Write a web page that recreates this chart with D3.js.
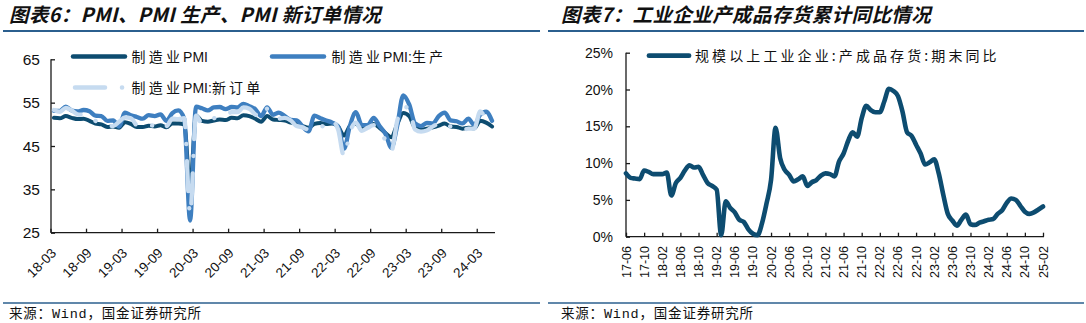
<!DOCTYPE html>
<html>
<head>
<meta charset="utf-8">
<script src="https://cdn.jsdelivr.net/npm/d3@7"></script>
<style>
  html, body { margin: 0; padding: 0; background: #fff; }
  svg { display: block; }
  text { font-family: Arial, "Liberation Sans", "Noto Sans CJK SC", sans-serif; fill: #111; }
</style>
</head>
<body>
<svg id="chart" width="1086" height="323"></svg>
<script>
// ---------------- DATA ----------------
// Left chart: monthly, 2018-03 .. 2024-05
const leftStart = "2018-03", leftEnd = "2024-06"; // end exclusive
const pmi = [51.5, 51.4, 51.9, 51.5, 51.2, 51.3, 50.8, 50.2, 50.0, 49.4,
  49.5, 49.2, 50.5, 50.1, 49.4, 49.4, 49.7, 49.5, 49.8, 49.3, 50.2, 50.2,
  50.0, 35.7, 52.0, 50.8, 50.6, 50.9, 51.1, 51.0, 51.5, 51.4, 52.1, 51.9,
  51.3, 50.6, 51.9, 51.1, 51.0, 50.9, 50.4, 50.1, 49.6, 49.2, 50.1, 50.3,
  50.1, 50.2, 49.5, 47.4, 49.6, 50.2, 49.0, 49.4, 50.1, 49.2, 48.0, 47.0,
  50.1, 52.6, 51.9, 49.2, 48.8, 49.0, 49.3, 49.7, 50.2, 49.5, 49.4, 49.0,
  49.2, 49.1, 50.8, 50.4, 49.5];
const pmiProduction = [53.1, 53.1, 54.1, 53.2, 53.0, 53.3, 53.0, 52.0, 51.9, 50.8,
  50.9, 49.5, 52.7, 52.1, 51.7, 51.3, 52.1, 51.9, 52.3, 50.8, 52.6, 53.2,
  51.3, 27.8, 54.1, 53.7, 53.2, 53.9, 54.0, 53.5, 54.0, 53.9, 54.7, 54.2,
  53.5, 51.9, 53.9, 52.2, 52.7, 51.9, 51.0, 50.9, 49.5, 48.4, 52.0, 51.4,
  50.9, 50.4, 49.5, 44.4, 49.7, 52.8, 49.8, 49.8, 51.5, 49.6, 47.8, 44.6,
  49.8, 56.7, 54.6, 50.2, 49.6, 50.3, 50.2, 51.9, 52.7, 50.9, 50.7, 50.2,
  51.3, 49.8, 52.2, 52.9, 50.8];
const pmiNewOrders = [53.3, 52.9, 53.8, 53.2, 52.3, 52.2, 52.0, 50.8, 50.4, 49.7,
  49.6, 50.6, 51.6, 51.4, 49.8, 49.6, 49.8, 49.7, 50.5, 49.6, 51.3, 51.2,
  51.4, 29.3, 52.0, 50.2, 50.9, 51.4, 51.7, 52.0, 52.8, 52.8, 53.9, 53.6,
  52.3, 51.5, 53.6, 52.0, 51.3, 51.5, 50.9, 49.6, 49.3, 48.8, 49.4, 49.7,
  49.3, 50.7, 48.8, 42.6, 48.2, 50.4, 48.5, 49.2, 49.8, 48.1, 46.4, 43.9,
  50.9, 54.1, 53.6, 48.8, 48.3, 48.6, 49.5, 50.2, 50.5, 49.5, 49.4, 48.7,
  49.0, 49.0, 53.0, 51.1, 49.6];
const leftTickLabels = ["18-03","18-09","19-03","19-09","20-03","20-09","21-03","21-09","22-03","22-09","23-03","23-09","24-03"];
const leftYTicks = [25, 35, 45, 55, 65];
const leftSeriesNames = ["制造业PMI", "制造业PMI:生产", "制造业PMI:新订单"];

// Right chart: monthly, 2017-06 .. 2025-02 (%)
const rightStart = "2017-06", rightEnd = "2025-03"; // end exclusive
const inventoryYoY = [8.6, 8.0, 7.9, 7.8, 9.0, 8.8, 8.5, 8.5, 8.5, 8.7,
  5.6, 7.3, 8.0, 9.0, 9.7, 9.4, 9.5, 8.4, 7.3, 6.9,
  6.4, 0.2, 4.8, 3.9, 3.3, 2.3, 2.0, 1.0, 0.4, 0.2,
  1.8, 4.5, 7.7, 14.8, 10.7, 9.1, 8.4, 7.5, 7.8, 8.2,
  6.9, 7.4, 7.7, 8.3, 8.6, 8.5, 8.2, 10.2, 11.3, 13.0,
  14.2, 13.6, 16.1, 17.8, 17.2, 16.9, 16.9, 18.4, 20.1, 19.8,
  19.1, 17.0, 14.2, 13.7, 12.5, 11.3, 9.8, 10.1, 10.5, 8.6,
  5.7, 3.1, 2.2, 1.5, 2.3, 3.0, 1.7, 1.6, 1.9, 2.1,
  2.3, 2.4, 3.1, 3.6, 4.6, 5.2, 5.0, 4.2, 3.4, 3.1,
  3.3, 3.7, 4.1];
const rightTickLabels = ["17-06","17-10","18-02","18-06","18-10","19-02","19-06","19-10","20-02","20-06","20-10","21-02","21-06","21-10","22-02","22-06","22-10","23-02","23-06","23-10","24-02","24-06","24-10","25-02"];
const rightYTicks = [0, 5, 10, 15, 20, 25];
const rightSeriesName = "规模以上工业企业:产成品存货:期末同比";

const titleLeft = "图表6：PMI、PMI 生产、PMI 新订单情况";
const titleRight = "图表7：工业企业产成品存货累计同比情况";
const sourceText = "来源：Wind，国金证券研究所";

// ---------------- HELPERS ----------------
const fmt = d3.utcFormat("%y-%m");
const parse = d3.utcParse("%Y-%m");
const leftCats = d3.utcMonth.range(parse(leftStart), parse(leftEnd)).map(fmt);
const rightCats = d3.utcMonth.range(parse(rightStart), parse(rightEnd)).map(fmt);

const C_DARK = "#0d4c70", C_MID = "#3e7fc0", C_LIGHT = "#c6dbf0";
const AXIS = "#1a1a1a";
const svg = d3.select("#chart");

// text with letter-spacing only on CJK runs
function spacedText(sel, str, spacing) {
  const runs = str.match(/[\u3000-\u9fff\uff00-\uffef]+|[^\u3000-\u9fff\uff00-\uffef]+/g);
  runs.forEach(r => {
    const cjk = /[\u3000-\u9fff\uff00-\uffef]/.test(r);
    sel.append("tspan").style("letter-spacing", cjk ? spacing + "px" : "0px").text(r);
  });
}

// ---------------- HEADERS / FOOTERS ----------------
function header(x0, x1, tx, title) {
  svg.append("text").attr("x", tx).attr("y", 22)
    .attr("font-size", 19.5).attr("font-weight", 700).attr("font-style", "italic")
    .style("font-family", "'Noto Sans CJK SC', sans-serif").style("letter-spacing", "0.4px")
    .text(title);
  svg.append("line").attr("x1", x0).attr("x2", x1).attr("y1", 31).attr("y2", 31)
    .attr("stroke", "#2b5f8e").attr("stroke-width", 2);
  svg.append("line").attr("x1", x0).attr("x2", x1).attr("y1", 303).attr("y2", 303)
    .attr("stroke", "#2b5f8e").attr("stroke-width", 1.5);
  svg.append("text").attr("x", tx).attr("y", 318)
    .attr("font-size", 13.5).style("font-family", "'Liberation Mono', 'Noto Sans CJK SC', monospace")
    .style("letter-spacing", "0.8px").attr("fill", "#222")
    .text(sourceText);
}
header(3, 540, 9, titleLeft);
header(548, 1084, 561, titleRight);

// ---------------- LEFT CHART ----------------
{
  const x = d3.scaleBand().domain(leftCats).range([51, 495]);
  const y = d3.scaleLinear().domain([25, 65]).range([232.7, 59.3]);
  const cx = d => x(d) + x.bandwidth() / 2;
  const g = svg.append("g");

  const yAxis = d3.axisRight(y).tickValues(leftYTicks).tickSize(4).tickFormat("");
  const ya = g.append("g").attr("transform", "translate(51,0)").call(yAxis);
  ya.select(".domain").attr("d", `M0,${y(65)}V${y(25)}`);
  ya.selectAll("line,path").attr("stroke", AXIS).attr("stroke-width", 1.3);
  g.selectAll(".ylab").data(leftYTicks).join("text")
    .attr("x", 40).attr("y", d => y(d)).attr("dy", "0.36em")
    .attr("text-anchor", "end").attr("font-size", 15.5).text(d => d);

  const xAxis = d3.axisTop(x).tickValues(leftTickLabels).tickSize(4).tickFormat("");
  const xa = g.append("g").attr("transform", "translate(0,232.7)").call(xAxis);
  xa.select(".domain").attr("d", "M51,0H495");
  xa.selectAll(".tick").attr("transform", d => `translate(${x(d)},0)`);
  xa.selectAll("line,path").attr("stroke", AXIS).attr("stroke-width", 1.3);
  g.selectAll(".xlab").data(leftTickLabels).join("text")
    .attr("text-anchor", "end").attr("font-size", 13.5)
    .attr("transform", d => `translate(${x(d) + 6},254) rotate(-45)`)
    .text(d => d);

  const line = vals => d3.line().x((d, i) => cx(leftCats[i])).y(d => y(d)).curve(d3.curveMonotoneX)(vals);
  g.append("path").attr("d", line(pmi)).attr("fill", "none").attr("stroke", C_DARK)
    .attr("stroke-width", 4).attr("stroke-linejoin", "round").attr("stroke-linecap", "round");
  g.append("path").attr("d", line(pmiProduction)).attr("fill", "none").attr("stroke", C_MID)
    .attr("stroke-width", 4.3).attr("stroke-linejoin", "round").attr("stroke-linecap", "round");
  g.append("path").attr("d", line(pmiNewOrders)).attr("fill", "none").attr("stroke", C_LIGHT)
    .attr("stroke-width", 4.3).attr("stroke-linejoin", "round").attr("stroke-linecap", "round")
    .attr("stroke-dasharray", "30 17 0.1 17");

  // legend
  const lg = svg.append("g");
  const items = [
    { name: leftSeriesNames[0], color: C_DARK, x1: 73, x2: 125, tx: 131.5, y: 56.5, dash: null },
    { name: leftSeriesNames[1], color: C_MID, x1: 272, x2: 324, tx: 331.5, y: 56.5, dash: null },
    { name: leftSeriesNames[2], color: C_LIGHT, x1: 75, x2: 125, tx: 131.5, y: 87.5, dash: "30 17 0.1 17" }
  ];
  items.forEach(it => {
    const l = lg.append("line").attr("x1", it.x1).attr("x2", it.x2).attr("y1", it.y).attr("y2", it.y)
      .attr("stroke", it.color).attr("stroke-width", 4.5).attr("stroke-linecap", "round");
    if (it.dash) l.attr("stroke-dasharray", it.dash);
    const t = lg.append("text").attr("x", it.tx).attr("y", it.y).attr("dy", "0.36em")
      .attr("font-size", 14).attr("fill", "#222")
      .style("font-family", "Arial, 'Noto Sans CJK SC', sans-serif");
    spacedText(t, it.name, 3.2);
  });
}

// ---------------- RIGHT CHART ----------------
{
  const x = d3.scalePoint().domain(rightCats).range([626, 1043]);
  const y = d3.scaleLinear().domain([0, 25]).range([236.7, 52.7]);
  const g = svg.append("g");

  const yAxis = d3.axisRight(y).tickValues(rightYTicks).tickSize(4).tickFormat("");
  const ya = g.append("g").attr("transform", "translate(626,0)").call(yAxis);
  ya.select(".domain").attr("d", `M0,${y(25)}V${y(0)}`);
  ya.selectAll("line,path").attr("stroke", AXIS).attr("stroke-width", 1.3);
  g.selectAll(".ylab").data(rightYTicks).join("text")
    .attr("x", 613).attr("y", d => y(d)).attr("dy", "0.36em")
    .attr("text-anchor", "end").attr("font-size", 14).text(d => d + "%");

  const xAxis = d3.axisTop(x).tickValues(rightTickLabels).tickSize(4).tickFormat("");
  const xa = g.append("g").attr("transform", "translate(0,236.7)").call(xAxis);
  xa.select(".domain").attr("d", "M626,0H1044");
  xa.selectAll("line,path").attr("stroke", AXIS).attr("stroke-width", 1.3);
  g.selectAll(".xlab").data(rightTickLabels).join("text")
    .attr("text-anchor", "end").attr("font-size", 12.5)
    .attr("transform", d => `translate(${x(d) + 4.5},246) rotate(-90)`)
    .text(d => d);

  const line = d3.line().x((d, i) => x(rightCats[i])).y(d => y(d)).curve(d3.curveMonotoneX);
  g.append("path").attr("d", line(inventoryYoY)).attr("fill", "none").attr("stroke", C_DARK)
    .attr("stroke-width", 4.6).attr("stroke-linejoin", "round").attr("stroke-linecap", "round");

  g.append("line").attr("x1", 649).attr("x2", 689).attr("y1", 55.7).attr("y2", 55.7)
    .attr("stroke", C_DARK).attr("stroke-width", 4.8).attr("stroke-linecap", "round");
  g.append("text").attr("x", 695).attr("y", 55.7).attr("dy", "0.36em")
    .attr("font-size", 14).style("letter-spacing", "3.1px").attr("fill", "#222")
    .style("font-family", "'Noto Sans CJK SC', sans-serif").text(rightSeriesName);
}
</script>
</body>
</html>
